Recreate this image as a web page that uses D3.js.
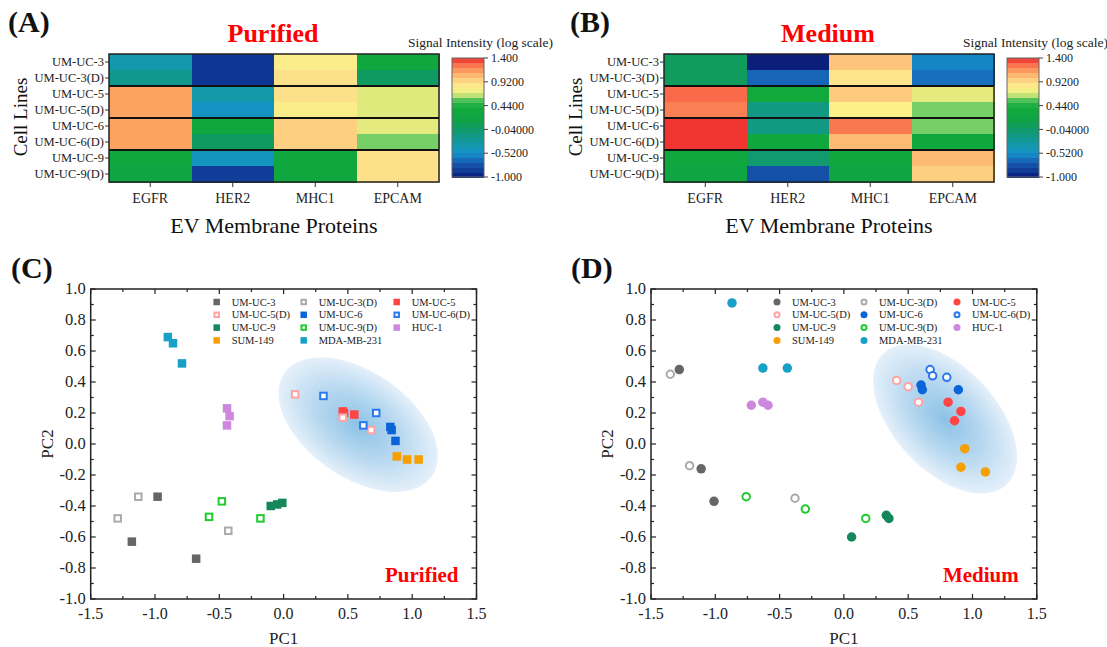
<!DOCTYPE html>
<html><head><meta charset="utf-8">
<script src="https://cdn.jsdelivr.net/npm/d3@7"></script>
<style>
html,body{margin:0;padding:0;background:#fff;}
svg{display:block;font-family:"Liberation Serif","Times New Roman",serif;}
</style></head><body>
<svg id="chart" width="1107" height="647"></svg>
<script>
// ---------------- DATA ----------------
const cellLines = ["UM-UC-3","UM-UC-3(D)","UM-UC-5","UM-UC-5(D)","UM-UC-6","UM-UC-6(D)","UM-UC-9","UM-UC-9(D)"];
const proteins = ["EGFR","HER2","MHC1","EPCAM"];
// signal intensity (log scale), rows = cellLines, cols = proteins
const purifiedIntensity = [
  [-0.36,-0.88, 0.80, 0.30],
  [-0.20,-0.88, 0.90, 0.00],
  [ 1.12,-0.34, 0.90, 0.68],
  [ 1.12,-0.48, 0.80, 0.68],
  [ 1.12, 0.30, 0.96, 0.70],
  [ 1.12, 0.00, 0.96, 0.58],
  [ 0.30,-0.46, 0.30, 0.90],
  [ 0.22,-0.85, 0.28, 0.90]
];
const mediumIntensity = [
  [ 0.03,-0.98, 1.00,-0.55],
  [ 0.03,-0.66, 0.88,-0.62],
  [ 1.28, 0.35, 0.98, 0.70],
  [ 1.22,-0.15, 0.78, 0.58],
  [ 1.38,-0.15, 1.24, 0.58],
  [ 1.38, 0.30, 1.04, 0.30],
  [ 0.30,-0.05, 0.30, 1.04],
  [ 0.22,-0.75, 0.22, 0.96]
];
const colorbarTicks = [1.4, 0.92, 0.44, -0.04, -0.52, -1.0];
const colorbarLabels = ["1.400","0.9200","0.4400","-0.04000","-0.5200","-1.000"];
const colorbarDomain = [-1.0, 1.4];

const seriesNames = ["UM-UC-3","UM-UC-3(D)","UM-UC-5","UM-UC-5(D)","UM-UC-6","UM-UC-6(D)","UM-UC-9","UM-UC-9(D)","HUC-1","SUM-149","MDA-MB-231"];
// PCA scores [PC1, PC2] per series
const purifiedScores = [
  [[-0.98,-0.34],[-1.18,-0.63],[-0.68,-0.74]],
  [[-1.13,-0.34],[-1.29,-0.48],[-0.43,-0.56]],
  [[0.46,0.21],[0.55,0.19],[0.47,0.20]],
  [[0.09,0.32],[0.46,0.17],[0.68,0.09]],
  [[0.83,0.11],[0.84,0.09],[0.87,0.02]],
  [[0.31,0.31],[0.72,0.20],[0.62,0.12]],
  [[-0.10,-0.40],[-0.05,-0.39],[-0.01,-0.38]],
  [[-0.48,-0.37],[-0.58,-0.47],[-0.18,-0.48]],
  [[-0.44,0.23],[-0.42,0.18],[-0.44,0.12]],
  [[0.88,-0.08],[0.96,-0.10],[1.05,-0.10]],
  [[-0.90,0.69],[-0.86,0.65],[-0.79,0.52]]
];
const mediumScores = [
  [[-1.28,0.48],[-1.11,-0.16],[-1.01,-0.37]],
  [[-1.35,0.45],[-1.20,-0.14],[-0.38,-0.35]],
  [[0.81,0.27],[0.91,0.21],[0.86,0.15]],
  [[0.41,0.41],[0.50,0.37],[0.58,0.27]],
  [[0.60,0.38],[0.61,0.35],[0.89,0.35]],
  [[0.67,0.48],[0.69,0.44],[0.80,0.43]],
  [[0.33,-0.46],[0.35,-0.48],[0.06,-0.60]],
  [[-0.76,-0.34],[-0.30,-0.42],[0.17,-0.48]],
  [[-0.72,0.25],[-0.63,0.27],[-0.59,0.25]],
  [[0.94,-0.03],[0.91,-0.15],[1.10,-0.18]],
  [[-0.87,0.91],[-0.63,0.49],[-0.44,0.49]]
];
const pc1Ticks = [-1.5,-1.0,-0.5,0.0,0.5,1.0,1.5];
const pc2Ticks = [1.0,0.8,0.6,0.4,0.2,0.0,-0.2,-0.4,-0.6,-0.8,-1.0];
// cluster ellipse: [centre PC1, centre PC2, semi-major (PC1 units), semi-minor (PC1 units), tilt deg]
const purifiedEllipse = [0.58, 0.125, 0.70, 0.41, 35];
const mediumEllipse = [0.787, 0.162, 0.70, 0.40, 47];

// ---------------- STYLES ----------------
const stopValues = [-1.0,-0.88,-0.75,-0.62,-0.52,-0.40,-0.20,0.00,0.15,0.35,0.52,0.60,0.68,0.78,0.90,1.00,1.12,1.28,1.40];
const stopColors = ["#0a1a75","#0d3793","#1550a8","#166fbd","#1590c8","#1399b5","#11988e","#0f9a62","#0ea346","#11a93b","#2ab54a","#8fd670","#dfe97c","#fbf08a","#fde08a","#fdc57b","#fca362","#f86a4a","#ee2a2c"];
const seriesColors = ["#666666","#aaaaaa","#ff4444","#ffa3a3","#0a64d8","#2a78ee","#15875a","#1fcc2e","#cc88dd","#f5a000","#18a0c8"];
const seriesOpen = [false,true,false,true,false,true,false,true,false,false,false];

const svg = d3.select("#chart");
const color = d3.scaleLinear().domain(stopValues).range(stopColors).interpolate(d3.interpolateRgb).clamp(true);
const defs = svg.append("defs");

// ---------------- HEATMAP ----------------
function heatmap(dx, values, title) {
  const g = svg.append("g").attr("transform", `translate(${dx},0)`);
  const x = d3.scaleBand().domain(proteins).range([109, 439]);
  const y = d3.scaleBand().domain(cellLines).range([54, 182]);
  const cells = [];
  values.forEach((row, i) => row.forEach((v, j) => cells.push({r: cellLines[i], c: proteins[j], v})));
  g.selectAll("rect.cell").data(cells).join("rect")
    .attr("x", d => x(d.c)).attr("y", d => y(d.r))
    .attr("width", x.bandwidth() + 0.5).attr("height", y.bandwidth() + 0.5)
    .attr("fill", d => color(d.v)).attr("shape-rendering", "crispEdges");
  [2, 4, 6].forEach(k => {
    g.append("line").attr("x1", 109).attr("x2", 439)
      .attr("y1", y(cellLines[k])).attr("y2", y(cellLines[k]))
      .attr("stroke", "#111").attr("stroke-width", 2);
  });
  g.append("rect").attr("x", 109).attr("y", 54).attr("width", 330).attr("height", 128)
    .attr("fill", "none").attr("stroke", "#222").attr("stroke-width", 1.5);
  cellLines.forEach(r => {
    const cy = y(r) + y.bandwidth() / 2;
    g.append("line").attr("x1", 105).attr("x2", 109).attr("y1", cy).attr("y2", cy).attr("stroke", "#333");
    g.append("text").attr("x", 104).attr("y", cy).attr("dy", "0.35em").attr("text-anchor", "end")
      .attr("font-size", 12.5).attr("fill", "#222").text(r);
  });
  proteins.forEach(c => {
    const cx = x(c) + x.bandwidth() / 2;
    g.append("line").attr("x1", cx).attr("x2", cx).attr("y1", 182).attr("y2", 187).attr("stroke", "#333");
    g.append("text").attr("x", cx).attr("y", 203).attr("text-anchor", "middle")
      .attr("font-size", 14).attr("fill", "#222").text(c);
  });
  g.append("text").attr("x", 274).attr("y", 233).attr("text-anchor", "middle")
    .attr("font-size", 22).attr("fill", "#111").text("EV Membrane Proteins");
  g.append("text").attr("transform", "translate(27,117) rotate(-90)").attr("text-anchor", "middle")
    .attr("font-size", 19).attr("fill", "#111").text("Cell Lines");
  g.append("text").attr("x", 273).attr("y", 42).attr("text-anchor", "middle")
    .attr("font-size", 26).attr("font-weight", "bold").attr("fill", "#ff0000").text(title);
  const cy = d3.scaleLinear().domain(colorbarDomain).range([177, 58]);
  const nBands = 24, step = (colorbarDomain[1] - colorbarDomain[0]) / nBands;
  const bands = d3.range(nBands).map(k => colorbarDomain[0] + k * step);
  g.selectAll("rect.band").data(bands).join("rect")
    .attr("x", 452).attr("width", 32)
    .attr("y", d => cy(d + step)).attr("height", d => cy(d) - cy(d + step) + 0.5)
    .attr("fill", d => color(d + step / 2)).attr("shape-rendering", "crispEdges");
  g.append("rect").attr("x", 452).attr("y", 58).attr("width", 32).attr("height", 119)
    .attr("fill", "none").attr("stroke", "#666").attr("stroke-width", 1);
  colorbarTicks.forEach((t, i) => {
    g.append("line").attr("x1", 484).attr("x2", 488).attr("y1", cy(t)).attr("y2", cy(t)).attr("stroke", "#444");
    g.append("text").attr("x", 491).attr("y", cy(t)).attr("dy", "0.35em")
      .attr("font-size", 12).attr("fill", "#222").text(colorbarLabels[i]);
  });
  g.append("text").attr("x", 408).attr("y", 47).attr("font-size", 13.5).attr("fill", "#222")
    .text("Signal Intensity (log scale)");
}
heatmap(0, purifiedIntensity, "Purified");
heatmap(555, mediumIntensity, "Medium");

// ---------------- PCA SCATTER ----------------
const fmt = v => (v < 0 ? "-" : "") + Math.abs(v).toFixed(1);
function scatter(x0, scores, ell, shape, tag, gid) {
  const g = svg.append("g");
  const x = d3.scaleLinear().domain([-1.5, 1.5]).range([x0, x0 + 385.8]);
  const y = d3.scaleLinear().domain([-1, 1]).range([599, 289]);
  const grad = defs.append("radialGradient").attr("id", gid);
  grad.append("stop").attr("offset", "0%").attr("stop-color", "#8cc2e6");
  grad.append("stop").attr("offset", "55%").attr("stop-color", "#b9d9f0");
  grad.append("stop").attr("offset", "100%").attr("stop-color", "#e5f0fa");
  const unit = x(1) - x(0);
  g.append("ellipse").attr("cx", x(ell[0])).attr("cy", y(ell[1]))
    .attr("rx", ell[2] * unit).attr("ry", ell[3] * unit)
    .attr("transform", `rotate(${ell[4]} ${x(ell[0])} ${y(ell[1])})`)
    .attr("fill", `url(#${gid})`);
  const xr = x.range(), yr = y.range();
  g.append("rect").attr("x", xr[0]).attr("y", yr[1]).attr("width", xr[1] - xr[0]).attr("height", yr[0] - yr[1])
    .attr("fill", "none").attr("stroke", "#222").attr("stroke-width", 1.5);
  const xMinor = d3.pairs(pc1Ticks).map(p => (p[0] + p[1]) / 2);
  const yMinor = d3.pairs(pc2Ticks).map(p => (p[0] + p[1]) / 2);
  const tk = (x1, y1, x2, y2) => g.append("line").attr("x1", x1).attr("y1", y1).attr("x2", x2).attr("y2", y2)
    .attr("stroke", "#222").attr("stroke-width", 1.2);
  pc1Ticks.forEach(t => { tk(x(t), yr[0], x(t), yr[0] - 5); tk(x(t), yr[1], x(t), yr[1] + 5); });
  xMinor.forEach(t => { tk(x(t), yr[0], x(t), yr[0] - 3); tk(x(t), yr[1], x(t), yr[1] + 3); });
  pc2Ticks.forEach(t => { tk(xr[0], y(t), xr[0] + 5, y(t)); tk(xr[1], y(t), xr[1] - 5, y(t)); });
  yMinor.forEach(t => { tk(xr[0], y(t), xr[0] + 3, y(t)); tk(xr[1], y(t), xr[1] - 3, y(t)); });
  pc1Ticks.forEach(t => g.append("text").attr("x", x(t)).attr("y", 619).attr("text-anchor", "middle")
    .attr("font-size", 16).attr("fill", "#222").text(fmt(t)));
  pc2Ticks.forEach(t => g.append("text").attr("x", xr[0] - 5).attr("y", y(t)).attr("dy", "0.33em")
    .attr("text-anchor", "end").attr("font-size", 16.5).attr("fill", "#222").text(fmt(t)));
  g.append("text").attr("x", x(0)).attr("y", 644).attr("text-anchor", "middle")
    .attr("font-size", 17).attr("fill", "#222").text("PC1");
  g.append("text").attr("transform", `translate(${xr[0] - 38},${y(0)}) rotate(-90)`).attr("text-anchor", "middle")
    .attr("font-size", 17).attr("fill", "#222").text("PC2");
  const mark = (sel, i, size) => {
    const open = seriesOpen[i], c = seriesColors[i];
    if (shape === "square") {
      const s = open ? size - 2 : size;
      sel.append("rect").attr("x", -s / 2).attr("y", -s / 2).attr("width", s).attr("height", s)
        .attr("fill", open ? "#fff" : c).attr("stroke", open ? c : "none").attr("stroke-width", open ? 2 : 0);
    } else {
      const r = open ? size / 2 - 1 : size / 2;
      sel.append("circle").attr("r", r)
        .attr("fill", open ? "#fff" : c).attr("stroke", open ? c : "none").attr("stroke-width", open ? 2 : 0);
    }
  };
  scores.forEach((pts, i) => {
    pts.forEach(p => {
      const m = g.append("g").attr("transform", `translate(${x(p[0])},${y(p[1])})`);
      mark(m, i, shape === "square" ? 8.5 : 9.5);
    });
  });
  const colOff = [126, 213, 306];
  seriesNames.forEach((n, i) => {
    const cx = xr[0] + colOff[i % 3], cyy = 302 + Math.floor(i / 3) * 12.8;
    const m = g.append("g").attr("transform", `translate(${cx},${cyy})`);
    mark(m, i, shape === "square" ? 6.5 : 7);
    g.append("text").attr("x", cx + 15).attr("y", cyy).attr("dy", "0.35em")
      .attr("font-size", 10.5).attr("fill", "#222").text(n);
  });
  g.append("text").attr("x", xr[1] - 18).attr("y", 582).attr("text-anchor", "end")
    .attr("font-size", 21).attr("font-weight", "bold").attr("fill", "#ff0000").text(tag);
}
scatter(90.7, purifiedScores, purifiedEllipse, "square", "Purified", "gc");
scatter(651, mediumScores, mediumEllipse, "circle", "Medium", "gd");

[["(A)", 8, 32], ["(B)", 570, 32], ["(C)", 11, 278], ["(D)", 571, 278]].forEach(d => {
  svg.append("text").attr("x", d[1]).attr("y", d[2]).attr("font-size", 30).attr("font-weight", "bold")
    .attr("fill", "#111").text(d[0]);
});
</script></body></html>
